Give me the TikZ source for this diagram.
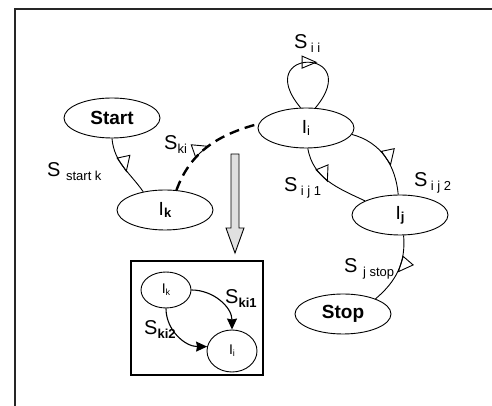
\documentclass[tikz,border=0pt]{standalone}
\usepackage{fontspec}
\setmainfont{Liberation Sans}
\usetikzlibrary{shapes.geometric, arrows.meta, decorations.markings}
\tikzset{>={Stealth[length=11pt,width=10pt,inset=1pt]}}
\tikzset{
  st/.style={draw, ellipse, line width=0.9pt, minimum width=96pt, minimum height=40pt, inner sep=0pt, font=\fontsize{19}{19}\selectfont},
  sst/.style={draw, ellipse, line width=0.9pt, minimum width=50pt, inner sep=0pt, font=\fontsize{14}{14}\selectfont},
  lab/.style={anchor=base west, inner sep=0pt, font=\fontsize{20}{20}\selectfont},
  flag/.style={postaction={decorate}, decoration={markings, mark=at position #1 with {\draw[solid, line width=0.9pt] (-8pt,0pt) -- (8pt,0pt) -- (-3pt,12pt) -- cycle;}}},
  midtip/.style={postaction={decorate}, decoration={markings, mark=at position #1 with {\draw[solid, line width=0.9pt] (-6pt,-6pt) -- (8pt,0pt) -- (-6pt,6pt) -- cycle;}}}
}
\newcommand\lsub[1]{\raisebox{-4pt}{\fontsize{13}{13}\selectfont #1}}
\newcommand\nsub[1]{\raisebox{-2pt}{\fontsize{13}{13}\selectfont #1}}
\newcommand\ssub[1]{\raisebox{-2pt}{\fontsize{9}{9}\selectfont #1}}

\begin{document}
\begin{tikzpicture}[x=1pt, y=1pt]
\useasboundingbox (0,0) rectangle (492,406);
\draw[line width=2pt, black!85] (15,-20) -- (15,397) -- (510,397);
% states
\node[st] (start) at (112,288) {\textbf{Start}};
\node[st] (ik) at (165,196) {I\nsub{\textbf{k}}};
\node[st] (ii) at (306,278) {I\nsub{i}};
\node[st] (ij) at (400,191) {I\nsub{\textbf{j}}};
\node[st] (stop) at (343,92) {\textbf{Stop}};
% transitions
\draw[line width=0.9pt, flag=0.45] (start.south) to[out=-85, in=125] (ik.140);
\draw[line width=2.4pt, dash pattern=on 10pt off 6pt, flag=0.42] (ik.60) to[out=70, in=195] (ii.175);
\draw[line width=0.9pt, midtip=0.5] (ii.105) .. controls (250,359) and (366,359) .. (ii.65);
\draw[line width=0.9pt, flag=0.38] (ii.-85) to[out=-80, in=155] (ij.158);
\draw[line width=0.9pt, flag=0.52] (ii.-8) to[out=-15, in=95] (ij.95);
\draw[line width=0.9pt, flag=0.4] (ij.-80) to[out=-85, in=40] (stop.25);
\node[lab] (lsk) at (47,229) {S \lsub{start k}};
\node[lab] (lki) at (164,256) {S\lsub{ki}};
\node[lab] (lii) at (294,357) {S\,\lsub{i i}};
\node[lab] (lij1) at (284,214) {S\,\lsub{i j 1}};
\node[lab] (lij2) at (414,219) {S\,\lsub{i j 2}};
\node[lab] (ljs) at (344,133) {S \lsub{j stop}};
% refinement
\coordinate (A1) at (231,252);
\coordinate (A2) at (239,252);
\draw[line width=0.9pt, fill=black!12] (A1) -- (A2) -- (239,178) -- (244,178) -- (235,153) -- (226,178) -- (231,178) -- cycle;
\draw[line width=1.6pt] (131,31) rectangle (263,145);
\node[sst, minimum height=36pt] (ik2) at (166,116) {I\ssub{k}};
\node[sst, minimum height=42pt] (ii2) at (232,55) {I\ssub{i}};
\draw[->, line width=1.1pt] (ik2.east) to[out=0, in=90] (ii2.north);
\draw[->, line width=1.1pt] (ik2.south) to[out=-90, in=180] (ii2.170);
\node[lab] (lki1) at (225,102) {S\lsub{\textbf{ki1}}};
\node[lab] (lki2) at (144,71) {S\lsub{\textbf{ki2}}};
\end{tikzpicture}
\end{document}
